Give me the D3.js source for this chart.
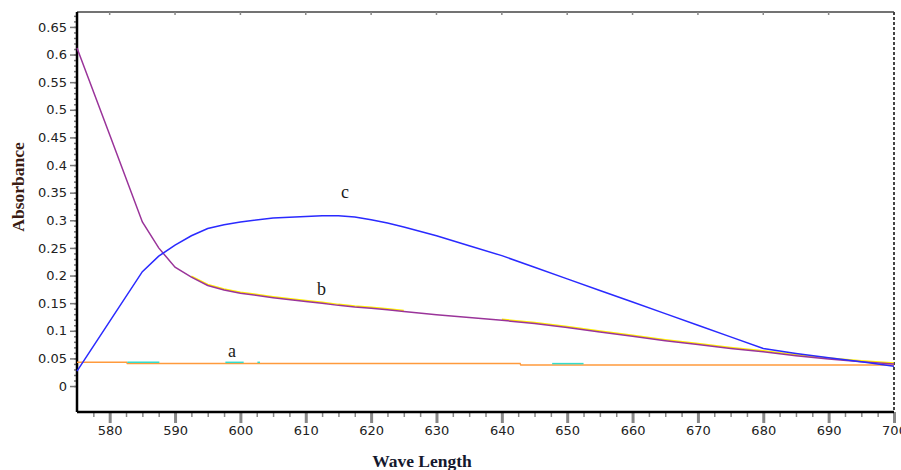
<!DOCTYPE html>
<html>
<head>
<title>Absorbance vs Wave Length - D3.js</title>
<script src="https://d3js.org/d3.v7.min.js"></script>
<style>
body { margin: 0; background: #fff; }
.line { fill: none; stroke-width: 1.5px; }
.axis text { font-family: "DejaVu Sans", sans-serif; font-size: 13px; fill: #222; }
.axis path { display: none; }
.major line { stroke: #888; stroke-width: 3px; }
.minor line { stroke: #888; stroke-width: 1.5px; }
.ylab line { stroke: #777; stroke-width: 1.5px; }
.tag { font-family: "Liberation Serif", serif; font-size: 18px; fill: #1a1a1a; }
.title { font-family: "Liberation Serif", serif; font-size: 17.5px; font-weight: bold; }
</style>
</head>
<body>
<svg width="901" height="470"></svg>

<script>
// curve b (purple) and c (blue)
const waves = [575, 580, 585, 587.5, 590, 592.5, 595, 597.5, 600, 605, 610, 612.5, 615, 617.5, 620, 622.5, 625,
  630, 635, 640, 645, 650, 655, 660, 665, 670, 675, 680, 685, 690, 695, 700];
const curveB = [0.612, 0.455, 0.297, 0.250, 0.215, 0.197, 0.182, 0.174, 0.168, 0.160, 0.153, 0.150, 0.146, 0.143, 0.141, 0.138, 0.135,
  0.129, 0.124, 0.119, 0.113, 0.106, 0.098, 0.090, 0.082, 0.075, 0.068, 0.062, 0.055, 0.049, 0.044, 0.040];
const curveC = [0.027, 0.117, 0.207, 0.235, 0.255, 0.272, 0.285, 0.292, 0.297, 0.304, 0.307, 0.308, 0.308, 0.306, 0.301, 0.295, 0.288,
  0.272, 0.254, 0.236, 0.215, 0.194, 0.173, 0.152, 0.131, 0.110, 0.089, 0.068, 0.059, 0.051, 0.044, 0.036];

// curve a (orange), almost flat
const aWaves = [575, 582.6, 582.7, 642.8, 642.9, 700];
const curveA = [0.0429, 0.0429, 0.0406, 0.0406, 0.038, 0.038];

// short cyan pieces showing above the orange line
const cyanStart = [582.7, 597.7, 602.6, 647.7];
const cyanEnd = [587.6, 600.5, 603.0, 652.5];
const cyanVal = [0.0429, 0.0429, 0.0429, 0.0406];

// yellow shows under b in these ranges
const yellowFrom = [591, 640];
const yellowTo = [628, 700];

const xTicks = d3.range(580, 701, 10);
const yTicks = d3.range(0, 0.651, 0.05);

const labels = ["a", "b", "c"];
const labelWave = [598.7, 612.4, 616];
const labelVal = [0.0526, 0.164, 0.340];

const svg = d3.select("svg");
const margin = { top: 12, right: 7, bottom: 58, left: 77 };
const width = +svg.attr("width") - margin.left - margin.right;
const height = +svg.attr("height") - margin.top - margin.bottom;

const g = svg.append("g")
  .attr("transform", `translate(${margin.left},${margin.top})`);

const x = d3.scaleLinear().domain([575, 700]).range([0, width]);
const y = d3.scaleLinear().domain([-0.047, 0.677]).range([height, 0]);

// top frame line and its little ticks
g.append("line")
  .attr("x1", 0).attr("x2", width).attr("y1", 0).attr("y2", 0)
  .attr("stroke", "#444").attr("stroke-width", 1.5);
g.selectAll(".toptick")
  .data(xTicks.slice(0, -1))
  .enter()
  .append("line")
  .attr("x1", d => x(d)).attr("x2", d => x(d))
  .attr("y1", 0).attr("y2", 3)
  .attr("stroke", "#888").attr("stroke-width", 1.5);

// right frame, dashed
g.append("line")
  .attr("x1", width).attr("x2", width).attr("y1", 0).attr("y2", height)
  .attr("stroke", "#444").attr("stroke-width", 2)
  .attr("stroke-dasharray", "3,2");

// minor ticks
g.append("g")
  .attr("class", "axis minor")
  .attr("transform", `translate(0,${height})`)
  .call(d3.axisBottom(x).tickValues(d3.range(577.5, 700, 2.5)).tickSize(5).tickFormat(""));
g.append("g")
  .attr("class", "axis ylab")
  .call(d3.axisLeft(y).tickValues(d3.range(0, 0.675, 0.01)).tickSize(3).tickFormat(""));

// major ticks
g.append("g")
  .attr("class", "axis major")
  .attr("transform", `translate(0,${height})`)
  .call(d3.axisBottom(x).tickValues(xTicks).tickSize(11).tickPadding(3).tickFormat(d3.format("d")));
g.append("g")
  .attr("class", "axis ylab")
  .call(d3.axisLeft(y).tickValues(yTicks).tickSize(7).tickPadding(3)
    .tickFormat(d => String(+d.toFixed(2))));

// axis lines
g.append("line")
  .attr("x1", 0).attr("x2", 0).attr("y1", 0).attr("y2", height)
  .attr("stroke", "#000").attr("stroke-width", 2.5);
g.append("line")
  .attr("x1", 0).attr("x2", width).attr("y1", height).attr("y2", height)
  .attr("stroke", "#000").attr("stroke-width", 2.5);

const line = d3.line()
  .x(d => x(d[0]))
  .y(d => y(d[1]));

const bPts = waves.map((w, i) => [w, curveB[i]]);
const cPts = waves.map((w, i) => [w, curveC[i]]);
const aPts = aWaves.map((w, i) => [w, curveA[i]]);

// yellow edge under b
yellowFrom.forEach((f, i) => {
  g.append("path")
    .datum(bPts.filter(p => p[0] >= f && p[0] <= yellowTo[i]))
    .attr("class", "line")
    .attr("stroke", "#ffee00")
    .attr("transform", "translate(0,-1)")
    .attr("d", line);
});

g.append("path")
  .datum(aPts)
  .attr("class", "line")
  .attr("stroke", "#ff9a3c")
  .attr("d", line);

cyanStart.forEach((s, i) => {
  g.append("path")
    .datum([[s, cyanVal[i]], [cyanEnd[i], cyanVal[i]]])
    .attr("class", "line")
    .attr("stroke", "#33dccc")
    .attr("stroke-width", 2)
    .attr("d", line);
});

g.append("path")
  .datum(bPts)
  .attr("class", "line")
  .attr("stroke", "#9a349a")
  .attr("d", line);

g.append("path")
  .datum(cPts)
  .attr("class", "line")
  .attr("stroke", "#2a2aff")
  .attr("d", line);

// curve letters
g.selectAll(".tag")
  .data(labels)
  .enter()
  .append("text")
  .attr("class", "tag")
  .attr("x", (d, i) => x(labelWave[i]))
  .attr("y", (d, i) => y(labelVal[i]))
  .attr("text-anchor", "middle")
  .text(d => d);

// axis titles
svg.append("text")
  .attr("class", "title")
  .attr("fill", "#3a1c14")
  .attr("transform", "translate(24,187) rotate(-90)")
  .attr("text-anchor", "middle")
  .text("Absorbance");

svg.append("text")
  .attr("class", "title")
  .attr("fill", "#14182e")
  .attr("x", 422)
  .attr("y", 467)
  .attr("text-anchor", "middle")
  .text("Wave Length");
</script>
</body>
</html>
